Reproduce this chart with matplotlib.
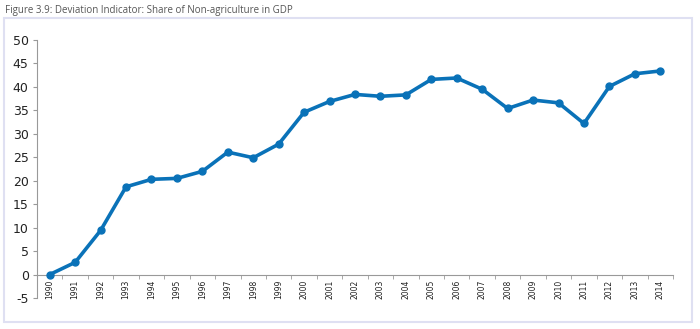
import matplotlib
matplotlib.use("Agg")
import matplotlib.pyplot as plt
from matplotlib.patches import Rectangle

years = [str(y) for y in range(1990, 2015)]
values = [0, 2.6, 9.4, 18.7, 20.3, 20.5, 22.0, 26.1, 24.9, 27.8, 34.6, 36.9, 38.4,
          38.0, 38.3, 41.6, 41.9, 39.5, 35.4, 37.2, 36.6, 32.2, 40.1, 42.8, 43.4]
yticks = list(range(-5, 55, 5))
title = "Figure 3.9: Deviation Indicator: Share of Non-agriculture in GDP"

fig = plt.figure(figsize=(7, 3.29), dpi=100)
fig.patches.append(Rectangle((4/700, 1-322/329), 688/700, 304/329, transform=fig.transFigure,
                             fill=False, edgecolor="#dfe0f2", linewidth=1.5))
fig.text(5/700, 1-10/329, title, fontsize=7, color="#555555", va="center", ha="left",
         family="Open Sans")

ax = fig.add_axes([37/700, 1-298/329, 636/700, 258/329])
for s in ["top", "right"]:
    ax.spines[s].set_visible(False)
ax.spines["bottom"].set_position(("data", 0))
ax.spines["bottom"].set_color("#999999")
ax.spines["left"].set_color("#999999")
ax.spines["bottom"].set_linewidth(0.8)
ax.spines["left"].set_linewidth(0.8)

x = list(range(len(years)))
ax.plot(x, values, color="#0a72b8", linewidth=2.6, marker="o", markersize=5, zorder=3,
        clip_on=False)
ax.set_xlim(-0.5, len(years) - 0.5)
ax.set_ylim(-5, 50)
ax.set_yticks(yticks)
ax.set_yticklabels([str(v) for v in yticks], fontsize=9, color="#222222")
ax.set_xticks(x)
ax.set_xticklabels(years, rotation=90, fontsize=5.5, color="#222222")
ax.set_xticks([i - 0.5 for i in range(len(years) + 1)], minor=True)
ax.tick_params(axis="x", which="major", length=0, pad=4)
ax.tick_params(axis="x", which="minor", length=3, color="#999999", direction="out")
ax.tick_params(axis="y", length=3, color="#999999", pad=3)
fig.savefig("out.png", dpi=100)
